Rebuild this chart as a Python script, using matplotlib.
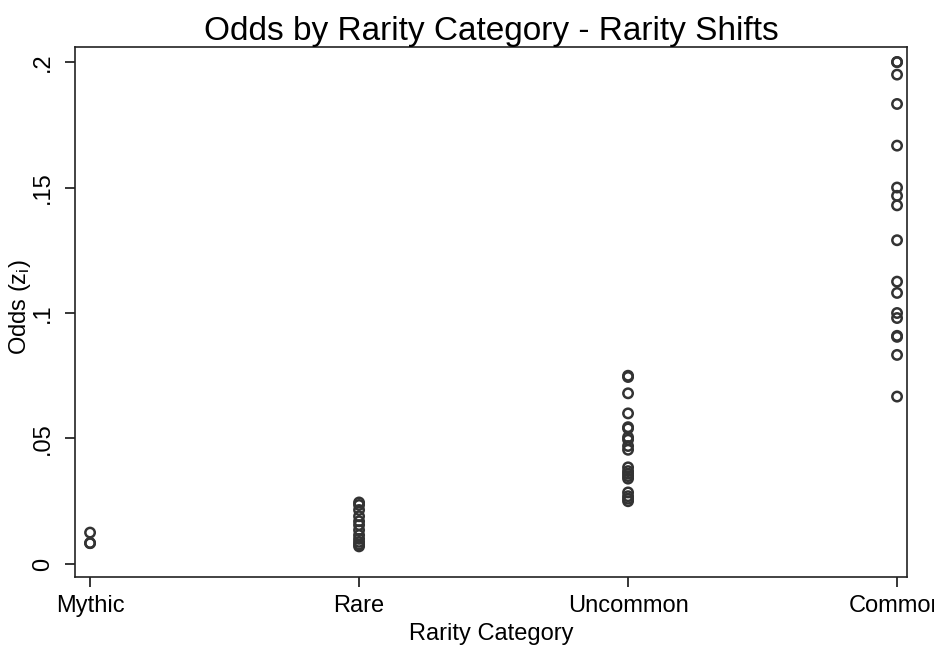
import matplotlib.pyplot as plt

plt.rcParams['font.family'] = ['Liberation Sans', 'DejaVu Sans']
plt.rcParams['mathtext.fontset'] = 'custom'
plt.rcParams['mathtext.rm'] = 'Liberation Sans'
plt.rcParams['mathtext.it'] = 'Liberation Sans'

categories = ['Mythic', 'Rare', 'Uncommon', 'Common']

mythic = [0.0125, 0.0083, 0.0083]
rare = [0.0245, 0.0235, 0.0215, 0.019, 0.017, 0.0155, 0.0135, 0.0115,
        0.0100, 0.0088, 0.0078, 0.007]
uncommon = [0.075, 0.0745, 0.068, 0.060, 0.0545, 0.054, 0.0505, 0.0495,
            0.047, 0.0455, 0.0385, 0.037, 0.036, 0.035, 0.034, 0.0285,
            0.027, 0.026, 0.025]
common = [0.2, 0.2, 0.195, 0.1833, 0.1667, 0.15, 0.1467, 0.1429, 0.129,
          0.1125, 0.108, 0.1, 0.098, 0.0909, 0.0905, 0.0833, 0.0667]

groups = [mythic, rare, uncommon, common]

fig = plt.figure(figsize=(9.34, 6.47), dpi=100)
ax = fig.add_axes([75 / 934, 70 / 647, 832 / 934, 530 / 647])

for i, vals in enumerate(groups):
    ax.scatter([i + 1] * len(vals), vals, s=46, facecolors='none',
               edgecolors='#333333', linewidths=1.8, zorder=3)

ax.set_xlim(0.944, 4.037)
ax.set_ylim(-0.0052, 0.206)
ax.set_xticks([1, 2, 3, 4])
ax.set_xticklabels(categories)
ax.set_yticks([0, 0.05, 0.1, 0.15, 0.2])
ax.set_yticklabels(['0', '.05', '.1', '.15', '.2'], rotation=90, va='center')

ax.tick_params(axis='both', length=7, width=1.1, color='black',
               labelsize=17)
ax.tick_params(axis='x', pad=6)
ax.tick_params(axis='y', pad=8)
for sp in ax.spines.values():
    sp.set_linewidth(1.2)
    sp.set_color('#222222')

ax.set_xlabel('Rarity Category', fontsize=17, labelpad=4)
ax.set_ylabel(r'Odds (z$_\mathregular{i}$)', fontsize=17)
ax.yaxis.set_label_coords(-0.051, 0.51)
ax.set_title('Odds by Rarity Category - Rarity Shifts', fontsize=24, pad=3)

fig.savefig('out.png', dpi=100)
